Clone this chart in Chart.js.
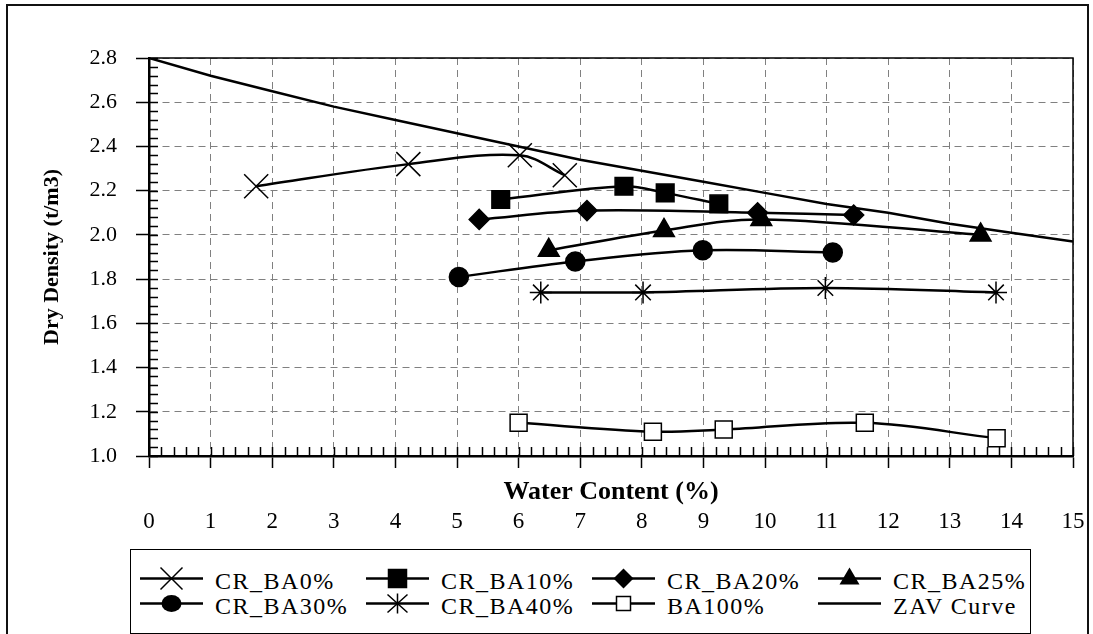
<!DOCTYPE html>
<html>
<head>
<meta charset="utf-8">
<script src="https://cdn.jsdelivr.net/npm/chart.js@4.4.1/dist/chart.umd.min.js"></script>
<style>
  html, body { margin: 0; padding: 0; background: #fff; }
  body { width: 1093px; height: 634px; position: relative; overflow: hidden;
         font-family: "Liberation Serif", "Times New Roman", serif; }
  #frame { position: absolute; left: 6px; top: 4px; width: 1083px; height: 700px;
           border: 2px solid #111; box-sizing: border-box; }
  #chart { position: absolute; left: 0; top: 0; }
  #legend { position: absolute; left: 130px; top: 549px; width: 901px; height: 85px;
            border: 1px solid #000; box-sizing: border-box; background: #fff;
            display: grid; grid-template-columns: repeat(4, 226px); grid-auto-rows: 25px;
            padding: 16px 0 0 9px; }
  .item { display: flex; align-items: center; white-space: nowrap; }
  .item svg { flex: none; }
  .item span { margin-left: 12px; font-size: 24px; letter-spacing: 1.5px; line-height: 25px;
               position: relative; top: 3px; color: #000; }
</style>
</head>
<body>
<div id="frame"></div>
<canvas id="chart" width="1093" height="634"></canvas>
<div id="legend"></div>
<script>
// water content (%) and dry density (t/m3)
const ba0W = [1.74, 4.21, 6.02, 6.75];
const ba0D = [2.22, 2.32, 2.36, 2.27];
const ba10W = [5.71, 7.71, 8.38, 9.25];
const ba10D = [2.16, 2.22, 2.19, 2.14];
const ba20W = [5.36, 7.11, 9.88, 11.44];
const ba20D = [2.07, 2.11, 2.10, 2.09];
const ba25W = [6.49, 8.36, 9.94, 13.5];
const ba25D = [1.93, 2.02, 2.07, 2.00];
const ba30W = [5.03, 6.92, 8.99, 11.1];
const ba30D = [1.81, 1.88, 1.93, 1.92];
const ba40W = [6.36, 8.02, 10.98, 13.75];
const ba40D = [1.74, 1.74, 1.76, 1.74];
const ba100W = [6.0, 8.18, 9.33, 11.62, 13.76];
const ba100D = [1.15, 1.11, 1.12, 1.15, 1.08];
const zavW = [0, 1, 2, 3, 4, 5, 6, 7, 8, 9, 10, 11, 12, 13, 14, 15];
const zavD = [2.80, 2.72, 2.65, 2.58, 2.52, 2.46, 2.40, 2.34, 2.29, 2.24, 2.19, 2.14, 2.10, 2.05, 2.01, 1.97];

const seriesNames = ["CR_BA0%", "CR_BA10%", "CR_BA20%", "CR_BA25%", "CR_BA30%", "CR_BA40%", "BA100%", "ZAV Curve"];
const xMin = 0, xMax = 15, xStep = 1;
const yMin = 1.0, yMax = 2.8, yStep = 0.2;

const serif = "'Liberation Serif', 'Times New Roman', serif";
Chart.defaults.font.family = serif;
Chart.defaults.color = "#000";

// marker look per series
const looks = [
  { style: "crossRot", r: 17, fill: "#000" },
  { style: "rect", r: 12.5, fill: "#000" },
  { style: "rectRot", r: 10, fill: "#000" },
  { style: "triangle", r: 12, fill: "#000" },
  { style: "circle", r: 9.5, fill: "#000" },
  { style: "star", r: 11, fill: "#000" },
  { style: "rect", r: 12, fill: "#fff" },
  { style: false, r: 0, fill: "#000" }
];
const pairs = [[ba0W, ba0D], [ba10W, ba10D], [ba20W, ba20D], [ba25W, ba25D],
               [ba30W, ba30D], [ba40W, ba40D], [ba100W, ba100D], [zavW, zavD]];

const datasets = pairs.map(([w, d], i) => ({
  label: seriesNames[i],
  data: w.map((x, k) => ({ x, y: d[k] })),
  showLine: true,
  borderColor: "#000",
  borderWidth: 2.5,
  tension: i === 7 ? 0 : 0.35,
  pointStyle: looks[i].style,
  pointRadius: looks[i].r,
  pointHoverRadius: looks[i].r,
  pointBackgroundColor: looks[i].fill,
  pointBorderColor: "#000",
  pointBorderWidth: 1.5
}));

// inward minor ticks + top/right plot frame
const axisExtras = {
  id: "axisExtras",
  afterDraw(chart) {
    const { ctx, chartArea: a, scales: { x, y } } = chart;
    ctx.save();
    ctx.strokeStyle = "#000";
    ctx.lineWidth = 1.5;
    ctx.beginPath();
    for (let i = 0; i <= 75; i++) {
      const px = Math.round(x.getPixelForValue(i / 5)) + 0.5;
      ctx.moveTo(px, a.bottom); ctx.lineTo(px, a.bottom - 9);
    }
    for (let i = 0; i <= 45; i++) {
      const py = Math.round(y.getPixelForValue(yMin + i * 0.04)) + 0.5;
      ctx.moveTo(a.left, py); ctx.lineTo(a.left + 9, py);
    }
    ctx.stroke();
    ctx.beginPath();
    ctx.moveTo(a.left, a.top); ctx.lineTo(a.right, a.top); ctx.lineTo(a.right, a.bottom);
    ctx.stroke();
    ctx.restore();
  }
};

const gridOpts = (tl) => ({
  color: "#808080", lineWidth: 1, tickLength: tl,
  tickColor: "#000", tickWidth: 1.5, tickBorderDash: []
});
const borderOpts = { color: "#000", width: 2.5, dash: [7, 5] };

new Chart(document.getElementById("chart"), {
  type: "scatter",
  data: { datasets },
  options: {
    responsive: false,
    animation: false,
    events: [],
    layout: { padding: { left: 29, right: 20, top: 58, bottom: 88 } },
    plugins: { legend: { display: false }, tooltip: { enabled: false } },
    scales: {
      // axis line, grid and title; its numbers sit on the axis below the title
      x: {
        type: "linear", position: "bottom", min: xMin, max: xMax, weight: 0,
        ticks: { stepSize: xStep, display: false },
        grid: gridOpts(12),
        border: borderOpts,
        title: { display: true, text: "Water Content (%)", color: "#000",
                 font: { size: 26, weight: "bold" }, padding: 0 },
        afterFit: (s) => { s.height = 52; }
      },
      xLabels: {
        type: "linear", position: "bottom", min: xMin, max: xMax, weight: 1,
        ticks: { stepSize: xStep, font: { size: 23 }, padding: 0, maxRotation: 0, color: "#000" },
        grid: { display: false, drawTicks: false },
        border: { display: false },
        afterFit: (s) => { s.height = 38; }
      },
      y: {
        type: "linear", min: yMin, max: yMax,
        ticks: { stepSize: yStep, font: { size: 22 }, padding: 19, color: "#000",
                 callback: (v) => Number(v).toFixed(1) },
        grid: gridOpts(13),
        border: borderOpts,
        title: { display: true, text: "Dry Density (t/m3)", color: "#000",
                 font: { size: 22, weight: "bold" }, padding: { top: 10, bottom: 0 } },
        afterFit: (s) => { s.width = 120; }
      }
    }
  },
  plugins: [axisExtras]
});

// legend: line with marker in the middle, then label
function markerSvg(look) {
  const c = 31.5, m = 12.5;
  let mk = "";
  switch (look.style) {
    case "crossRot":
      mk = `<path d="M${c-11} ${m-11}L${c+11} ${m+11}M${c-11} ${m+11}L${c+11} ${m-11}" stroke="#000" stroke-width="1.5"/>`; break;
    case "rect":
      const h = look.fill === "#fff" ? 7 : 9;
      mk = `<rect x="${c-h}" y="${m-h}" width="${2*h}" height="${2*h}" fill="${look.fill}" stroke="#000" stroke-width="1.5"/>`; break;
    case "rectRot":
      mk = `<path d="M${c-10} ${m}L${c} ${m-10}L${c+10} ${m}L${c} ${m+10}Z" fill="#000"/>`; break;
    case "triangle":
      mk = `<path d="M${c} ${m-11}L${c+10} ${m+6}L${c-10} ${m+6}Z" fill="#000"/>`; break;
    case "circle":
      mk = `<ellipse cx="${c}" cy="${m}" rx="10" ry="8.5" fill="#000"/>`; break;
    case "star":
      mk = `<path d="M${c} ${m-10}L${c} ${m+10}M${c-10} ${m-9}L${c+10} ${m+9}M${c-10} ${m+9}L${c+10} ${m-9}" stroke="#000" stroke-width="1.5"/>`; break;
  }
  return `<svg width="63" height="25"><line x1="0" y1="${m}" x2="63" y2="${m}" stroke="#000" stroke-width="2.5"/>${mk}</svg>`;
}
const legendEl = document.getElementById("legend");
seriesNames.forEach((name, i) => {
  const div = document.createElement("div");
  div.className = "item";
  div.innerHTML = markerSvg(looks[i]) + `<span>${name}</span>`;
  legendEl.appendChild(div);
});
</script>
</body>
</html>
